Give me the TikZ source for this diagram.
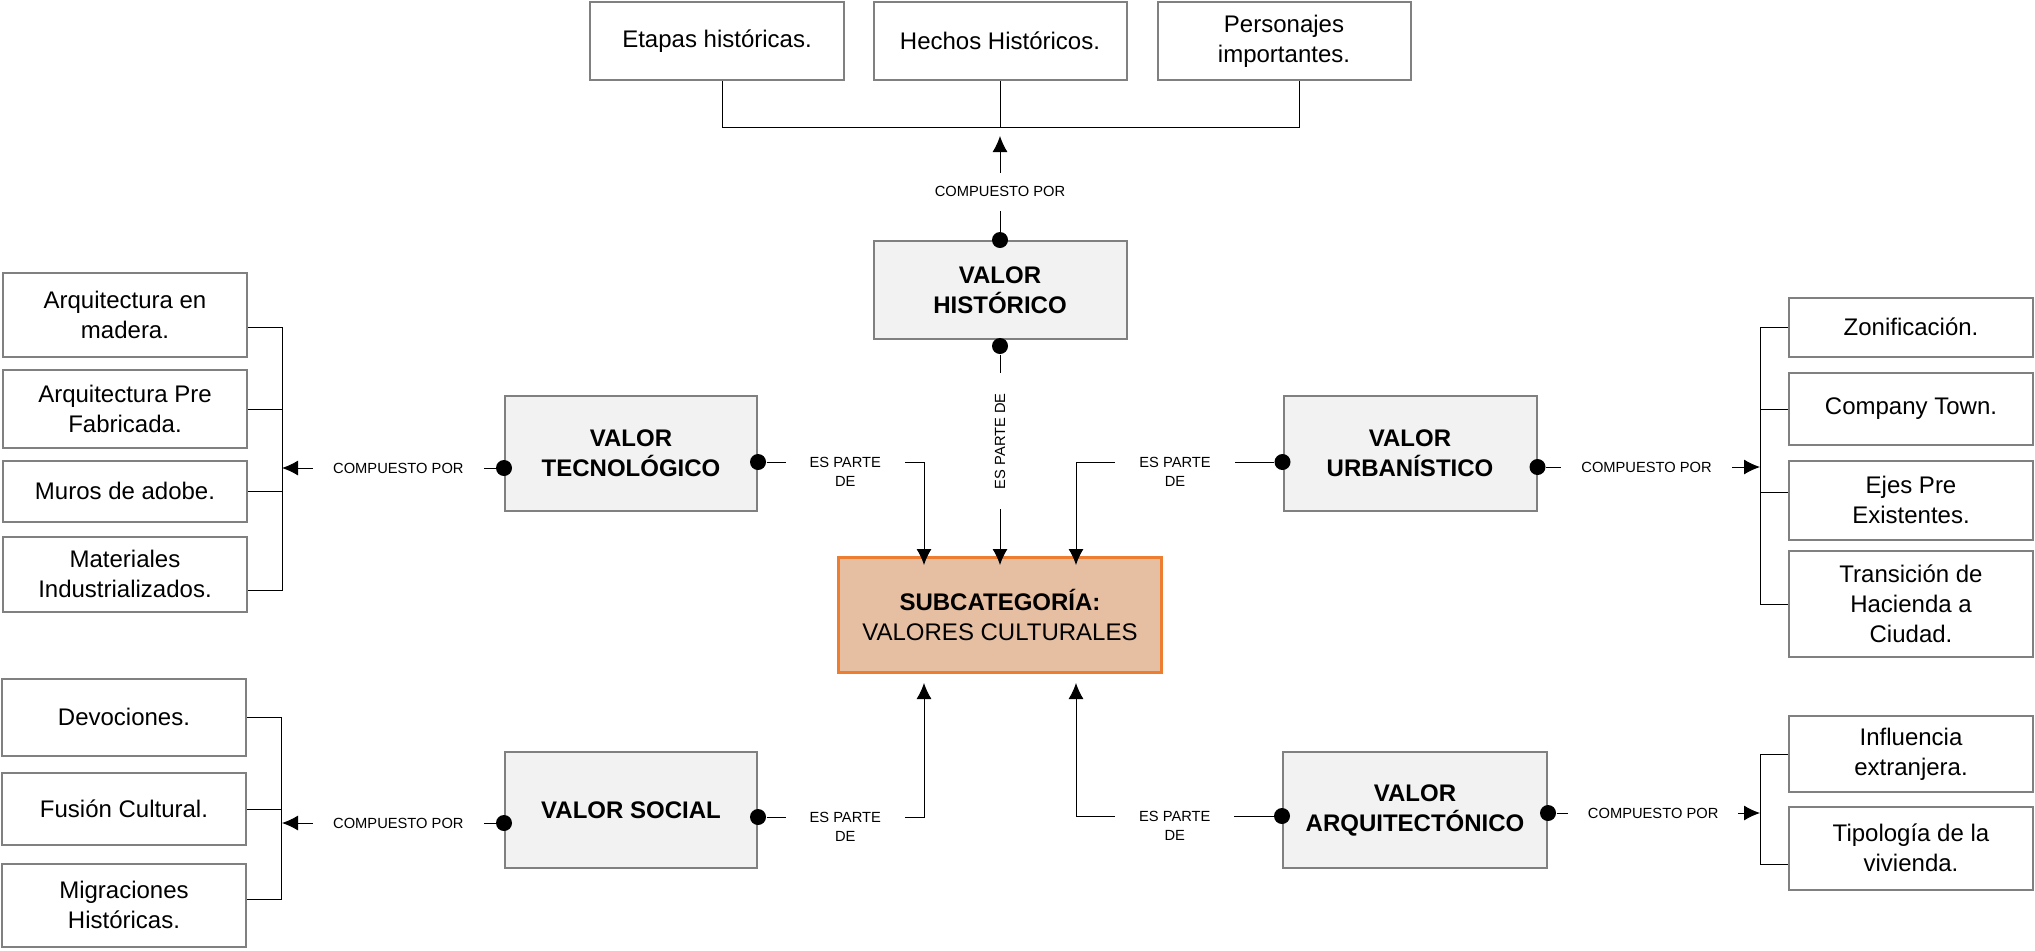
\documentclass[tikz,border=0pt]{standalone}
\usepackage{fontspec}
\setmainfont{Liberation Sans}
\usetikzlibrary{positioning,arrows.meta}
\definecolor{boxgray}{RGB}{128,128,128}
\definecolor{valfill}{RGB}{242,242,242}
\definecolor{subfill}{RGB}{230,190,161}
\definecolor{suborange}{RGB}{237,125,49}
\tikzset{
leaf/.style = {draw=boxgray, line width=1pt, fill=white, rectangle, align=center, minimum width=122pt, inner sep=2pt, font=\fontsize{12}{15}\selectfont},
valor/.style = {draw=boxgray, line width=1pt, fill=valfill, rectangle, align=center, minimum width=126pt, minimum height=57.5pt, font=\fontsize{12}{15}\selectfont\bfseries},
subcat/.style = {draw=suborange, line width=1.5pt, fill=subfill, rectangle, align=center, minimum width=161.5pt, minimum height=57.5pt, font=\fontsize{12}{15}\selectfont},
joint/.style = {fill=black, circle, inner sep=0pt, minimum size=8pt},
rel/.style = {fill=white, inner xsep=10pt, inner ysep=2pt, font=\fontsize{7.35}{9.5}\selectfont},
reltwo/.style = {rel, align=center, inner xsep=12pt, yshift=-4.75pt}
}
\begin{document}
\begin{tikzpicture}[x=0.5pt, y=0.5pt, line width=0.5pt, >={Latex[length=8pt,width=7.5pt]}]
    \useasboundingbox (0,0) rectangle (2035,-950);

    \node [subcat] (sub) at (1000,-615) {\textbf{SUBCATEGORÍA:}\\VALORES CULTURALES};
    \node [valor, minimum width=126.5pt, minimum height=49pt] (his) at (1000,-290) {VALOR\\HISTÓRICO};
    \node [valor] (tec) at (631,-453) {VALOR\\TECNOLÓGICO};
    \node [valor, minimum height=58pt] (soc) at (631,-810) {VALOR SOCIAL};
    \node [valor, minimum width=126.5pt] (urb) at (1410,-453) {VALOR\\URBANÍSTICO};
    \node [valor, minimum width=132pt, minimum height=58pt] (arq) at (1415,-810) {VALOR\\ARQUITECTÓNICO};

    % historico
    \node [leaf, minimum width=127pt, minimum height=39pt] (eta) at (717,-41) {Etapas históricas.};
    \node [leaf, minimum width=126.5pt, minimum height=39pt, right of=eta, node distance=141.5pt] (hec) {Hechos Históricos.};
    \node [leaf, minimum width=126.5pt, minimum height=39pt, right of=hec, node distance=142pt] (per) {Personajes\\importantes.};

    % tecnologico
    \node [leaf, minimum height=42pt] (a1) at (125,-315) {Arquitectura en\\madera.};
    \node [leaf, minimum height=39pt, below of=a1, node distance=47pt] (a2) {Arquitectura Pre\\Fabricada.};
    \node [leaf, minimum height=30.5pt, below of=a2, node distance=41pt] (a3) {Muros de adobe.};
    \node [leaf, minimum height=37.5pt, below of=a3, node distance=41.5pt] (a4) {Materiales\\Industrializados.};

    % social
    \node [leaf, minimum height=38.5pt] (s1) at (124,-717) {Devociones.};
    \node [leaf, minimum height=36pt, below of=s1, node distance=46pt] (s2) {Fusión Cultural.};
    \node [leaf, minimum height=41.5pt, below of=s2, node distance=48pt] (s3) {Migraciones\\Históricas.};

    % urbanistico
    \node [leaf, minimum height=29.5pt] (u1) at (1911,-327) {Zonificación.};
    \node [leaf, minimum height=36pt, below of=u1, node distance=41pt] (u2) {Company Town.};
    \node [leaf, minimum height=39.5pt, below of=u2, node distance=45.5pt] (u3) {Ejes Pre\\Existentes.};
    \node [leaf, minimum height=53pt, below of=u3, node distance=52pt] (u4) {Transición de\\Hacienda a\\Ciudad.};

    % arquitectonico
    \node [leaf, minimum height=38pt] (r1) at (1911,-754) {Influencia\\extranjera.};
    \node [leaf, minimum height=41.5pt, below of=r1, node distance=47pt] (r2) {Tipología de la\\vivienda.};

    \node [joint] (hisT) at (his.north) {};
    \node [joint] (hisB) at ([yshift=-3pt]his.south) {};
    \node [joint] (tecL) at ([yshift=-7.5pt]tec.west) {};
    \node [joint] (tecR) at ([yshift=-4.5pt]tec.east) {};
    \node [joint] (socL) at ([yshift=-6.5pt]soc.west) {};
    \node [joint] (socR) at ([yshift=-3.5pt]soc.east) {};
    \node [joint] (urbL) at ([yshift=-4.5pt]urb.west) {};
    \node [joint] (urbR) at ([yshift=-7pt]urb.east) {};
    \node [joint] (arqL) at ([yshift=-3pt]arq.west) {};
    \node [joint] (arqR) at ([yshift=-1.5pt]arq.east) {};

    \coordinate (tb) at ([yshift=-23pt]hec.south);
    \coordinate (lb) at ([xshift=17pt]a1.east);
    \coordinate (rb) at ([xshift=-14pt]u1.west);
    \coordinate (cl) at ([xshift=-38pt]sub.north);
    \coordinate (cr) at ([xshift=38pt]sub.north);
    \coordinate (cbl) at ([xshift=-38pt]sub.south);
    \coordinate (cbr) at ([xshift=38pt]sub.south);

    \draw ([xshift=2.5pt]eta.south) |- (tb) -| ([xshift=7.5pt]per.south);
    \draw (hec.south) -- (tb);
    \draw[->, shorten >=4.5pt] (hisT) -- node[rel, inner ysep=7pt, pos=0.38]{COMPUESTO POR} (tb);

    \draw ([yshift=-6pt]a1.east) -- ++(17pt,0) |- ([yshift=-8pt]a4.east);
    \draw (a2.east) -- ++(17pt,0);
    \draw (a3.east) -- ++(17pt,0);
    \draw[->] (tecL) -- node[rel, pos=0.455]{COMPUESTO POR} (tecL -| lb);

    \draw (s1.east) -- ++(17pt,0) |- ([yshift=3pt]s3.east);
    \draw (s2.east) -- ++(17pt,0);
    \draw[->] (socL) -- node[rel, pos=0.455]{COMPUESTO POR} (socL -| lb);

    \draw (u1.west) -- ++(-14pt,0) |- (u4.west);
    \draw (u2.west) -- ++(-14pt,0);
    \draw ([yshift=4pt]u3.west) -- ++(-14pt,0);
    \draw[->] (urbR) -- node[rel, pos=0.47]{COMPUESTO POR} (urbR -| rb);

    \draw (r1.west) -- ++(-14pt,0) |- ([yshift=-8pt]r2.west);
    \draw[->] (arqR) -- node[rel, pos=0.475]{COMPUESTO POR} (arqR -| rb);

    \draw[->, shorten >=-4.5pt] (hisB) -- node[rel, rotate=90, pos=0.43]{ES PARTE DE} (sub.north);
    \draw[->, shorten >=-4.5pt] (tecR) -| node[reltwo, pos=0.25]{ES PARTE\\DE} (cl);
    \draw[->, shorten >=-4.5pt] (urbL) -| node[reltwo, pos=0.25]{ES PARTE\\DE} (cr);
    \draw[->, shorten >=4.5pt] (socR) -| node[reltwo, pos=0.25]{ES PARTE\\DE} (cbl);
    \draw[->, shorten >=4.5pt] (arqL) -| node[reltwo, pos=0.25]{ES PARTE\\DE} (cbr);

\end{tikzpicture}
\end{document}
